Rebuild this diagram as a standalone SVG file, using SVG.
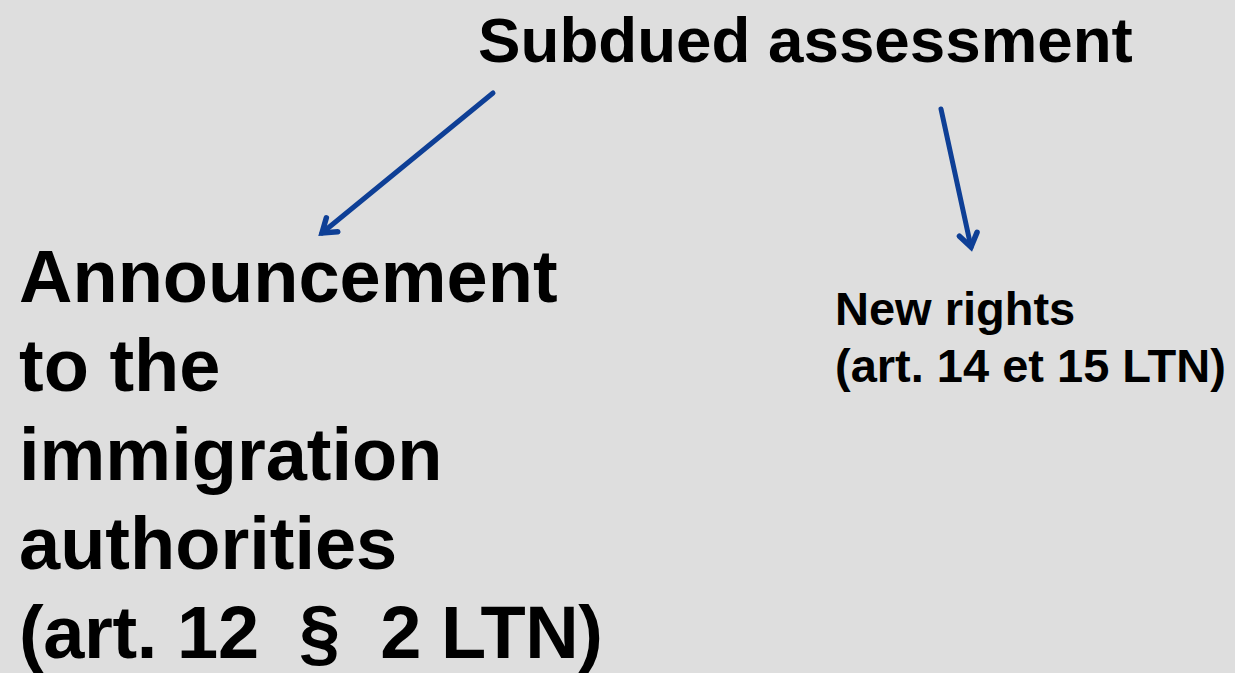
<svg xmlns="http://www.w3.org/2000/svg" width="1235" height="673" viewBox="0 0 1235 673">
<style>
text{font-family:"Liberation Sans",Arial,sans-serif;font-weight:bold;fill:#000;white-space:pre}
.c{stroke:#0E3F96;stroke-width:5;fill:none;stroke-linecap:round}
</style>
<defs>
<marker id="ah" viewBox="0 0 24 24" refX="19" refY="12" markerWidth="24" markerHeight="24" markerUnits="userSpaceOnUse" orient="auto">
<path d="M6,3 L19,12 L6,21" fill="none" stroke="#0E3F96" stroke-width="5.5" stroke-linecap="round" stroke-linejoin="miter"/>
</marker>
</defs>
<rect width="1235" height="673" fill="#DEDEDE"/>
<g id="title"><text x="478" y="62" font-size="63.7">Subdued assessment</text></g>
<g id="left">
<text x="19" y="302" font-size="74">Announcement</text>
<text x="19" y="391" font-size="74">to the</text>
<text x="19" y="480" font-size="74">immigration</text>
<text x="19" y="569" font-size="74">authorities</text>
<text x="19" y="658" font-size="74" textLength="584" lengthAdjust="spacing">(art. 12  §  2 LTN)</text>
</g>
<g id="right">
<text x="835" y="325" font-size="47">New rights</text>
<text x="835" y="382" font-size="47">(art. 14 et 15 LTN)</text>
</g>
<g id="connectors">
<line class="c" x1="493" y1="93" x2="322" y2="233" marker-end="url(#ah)"/>
<line class="c" x1="941" y1="109" x2="971" y2="247" marker-end="url(#ah)"/>
</g>
</svg>
